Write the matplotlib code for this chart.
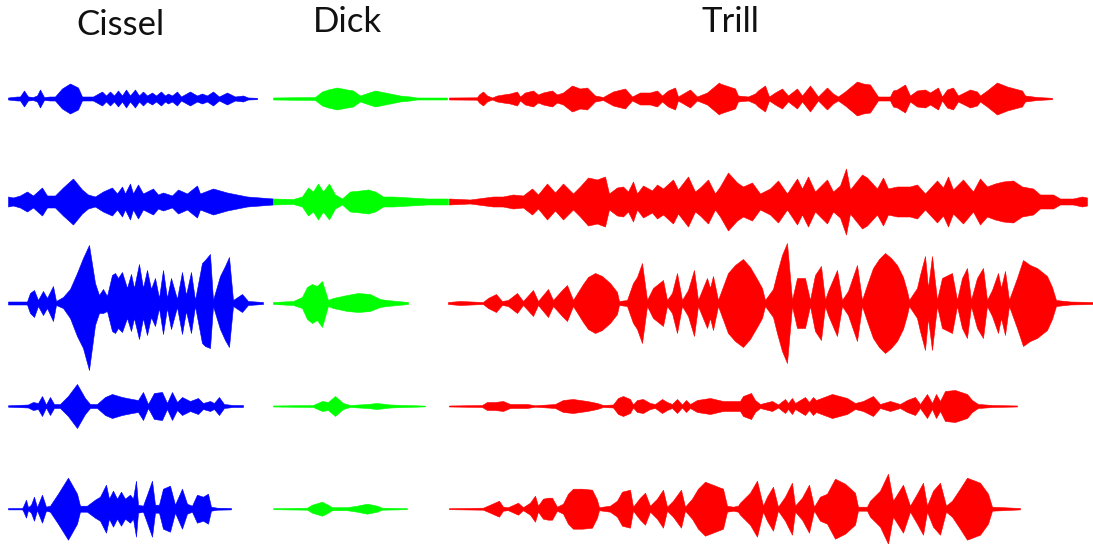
import matplotlib
matplotlib.use("Agg")
import matplotlib.pyplot as plt

titles = ["Cissel", "Dick", "Trill"]
title_x = [120, 347, 730]
title_y = [25, 22, 22]
colors = {"Cissel": "#0000ff", "Dick": "#00ff00", "Trill": "#ff0000"}
row_centres = [98.5, 201.5, 303, 406, 508.7]

# Row 1
cissel1_x = [8,17,20,24,28,33,37,40,44,50,55,62,70,78,82,93,102,106,110,114,118,122,126,130,135,139,143,147,152,156,161,165,168,172,177,181,190,197,202,207,213,219,227,235,243,248,257]
cissel1_h = [1,2,2,8,2,1.5,3,9,1.5,2,2,10,15,11,2,2,7,3,7,3,8,3,9,3,9,3,7,3,6,3,7,3,5,3,7,2,7,3,5,3,7,2,6,2,3,1,0.7]
dick1_x = [273,315,322,328,337,347,353,360,375,390,400,410,417,447]
dick1_h = [1,1.5,7,9,11,9,8,3,8,5,3,2,1,1]
trill1_x = [449,477,479,483,487,492,497,503,510,517,520,525,533,538,543,552,557,563,572,580,587,595,603,613,625,632,640,650,657,662,668,675,678,690,697,707,719,720,735,738,748,755,758,765,769,775,782,788,797,802,810,818,827,833,838,845,857,863,870,878,890,893,897,905,910,917,925,930,938,942,947,953,958,970,977,980,987,997,1007,1022,1025,1037,1052]
trill1_h = [1,1.2,4,7,3,1,3,4,5,7,2,6,8,4,6,8,4,6,13,10,11,3,1.5,7,10,2,6,6,8,3,8,11,2,9,2,6,16,15,10,3,2,5,8,13,2,6,10,3,10,3,13,2,11,5,2,7,17,15,14,2,2,8,9,14,3,8,9,6,11,2,9,11,3,9,7,3,8,16,12,8,3,1.5,0.7]

# Row 2
cissel2_x = [8,13,20,27,33,42,47,55,63,73,82,88,95,103,112,117,122,125,130,133,138,143,153,158,163,172,178,187,197,200,213,227,247,260,273]
cissel2_h = [5,4,6,10,6,14,6,6,14,23,12,7,5,10,14,8,15,8,18,8,17,8,13,7,9,6,12,8,16,8,13,9,5,4,3]
dick2_x = [273,293,302,308,313,318,323,329,335,342,350,360,368,375,380,383,393,410,427,448]
dick2_h = [3,2.5,5,14,10,18,10,18,7,3,10,11,12,10,7,5,5,4,3,3]
trill2_x = [449,470,493,503,513,523,532,538,547,555,563,573,580,588,597,605,609,617,623,628,633,637,643,652,657,663,673,678,688,695,700,708,715,720,728,737,743,752,760,770,778,787,797,802,808,815,827,833,840,846,850,862,867,877,883,888,897,910,917,925,937,943,948,953,963,973,980,987,995,1003,1013,1022,1033,1040,1053,1060,1073,1082,1087]
trill2_h = [3,2,5,5,7,6,13,7,18,9,18,8,15,24,22,25,8,14,15,10,20,8,16,11,17,13,22,12,25,10,14,22,8,15,29,19,15,19,8,13,21,8,23,13,25,10,22,10,16,33,12,27,24,13,24,13,15,15,17,8,21,14,25,12,22,10,23,15,18,20,21,15,13,7,7,3,3,5,4]

# Row 3
cissel3_x = [8,27,30,34,38,43,47,53,56,63,70,77,83,89,95,99,103,107,112,115,118,122,127,131,134,139,143,147,151,155,159,163,167,171,177,182,186,191,195,202,205,210,213,220,225,229,233,242,248,263]
cissel3_up = [1.5,1.5,10,13,3,12,5,17,2,6,14,30,45,58,20,8,14,7,28,30,25,31,15,29,15,39,15,33,14,25,5,33,5,25,4,31,8,31,3,40,43,49,3,27,37,46,3,9,2,1]
cissel3_dn = [1.5,1.5,10,14,3,12,5,18,2,5,15,33,45,67,22,10,10,8,28,30,25,29,15,28,15,36,15,32,14,23,5,31,5,26,4,31,8,30,3,40,43,45,3,26,37,44,3,9,2,1]
dick3_x = [273,293,302,307,312,317,322,328,333,347,358,370,380,387,397,408]
dick3_up = [1,2,6,16,19,17,22,3,5,8,10,9,4,3,2,1]
dick3_dn = [1,2,5,16,20,17,24,3,5,8,9,8,4,3,2,1]
trill3_x = [448,460,483,488,496,502,508,517,523,533,538,548,553,562,567,573,583,588,595,602,610,617,619,627,633,637,642,647,653,663,667,672,677,682,688,694,698,707,710,713,718,728,735,743,750,757,762,765,773,777,782,787,792,797,805,810,815,821,825,828,837,842,848,857,862,867,873,879,885,891,897,903,907,909,917,920,925,928,932,937,942,952,957,962,967,971,977,983,987,992,998,1001,1005,1009,1017,1023,1030,1037,1047,1052,1056,1070,1093]
trill3_h = [1,2,1,5,9,2,3,10,2,13,2,14,3,13,18,3,19,26,30,27,20,11,2,3,20,26,40,3,15,23,3,10,30,3,13,33,3,25,15,27,3,30,38,44,36,24,15,3,14,30,48,60,3,25,25,3,28,37,3,12,33,3,12,38,3,18,35,44,50,45,38,26,12,3,15,28,47,15,47,3,25,30,3,25,35,3,25,35,3,13,30,15,32,3,25,43,38,35,27,16,3,1.5,1]

# Row 4
cissel4_x = [8,28,33,38,42,46,50,54,60,68,77,85,90,97,105,112,122,132,138,143,148,154,162,167,172,177,182,190,198,203,210,214,219,224,233,243]
cissel4_h = [0.7,1.5,4,3,10,1.5,9,2,2,10,22,8,2,2,9,12,9,7,6,14,2,13,14,3,14,4,9,5,8,3,5,3,9,2,1,1]
dick4_x = [273,313,322,328,335,343,350,367,377,390,425]
dick4_h = [0.5,1,5,4,10,3,1,2,3,1.5,0.4]
trill4_x = [449,482,487,495,503,510,518,527,535,555,563,573,587,597,603,613,618,623,630,633,637,643,650,655,662,667,672,677,682,686,690,697,710,723,733,740,743,751,755,760,772,778,785,788,792,795,805,809,813,816,832,847,855,863,873,880,890,900,907,915,920,927,932,936,940,945,955,967,972,978,993,1017]
trill4_h = [0.5,1,4,4,5,2,2,2,0.7,2,6,7,5,3,1,1.5,8,10,7,1.5,6,7,3,2,7,4,2,7,1.5,6,2,6,8,5,5,5,10,13,6,2,5,1.5,7,3,8,3,9,4,9,6,12,8,3,5,10,2,5,2,6,9,2,12,3,12,5,15,16,12,6,2,1,0.5]

# Row 5
cissel5_x = [8,22,23,26,28,31,34,37,42,46,50,58,68,77,80,87,95,100,106,109,113,117,121,125,130,133,136,138,143,147,152,155,159,163,170,175,182,187,192,197,203,208,211,217,231]
cissel5_h = [0.7,0.7,2,9,1.5,4,12,1.5,14,2,3,15,31,15,3,3,9,12,24,10,18,10,17,10,14,10,28,4,3,14,28,4,4,20,23,4,20,5,3,14,12,15,2,1,0.7]
dick5_x = [273,307,312,322,328,332,347,357,367,377,382,407]
dick5_h = [0.5,1,4,7,4,1.5,1.5,3,5,3,1,0.5]
trill5_x = [449,483,490,499,503,508,518,523,530,535,538,543,548,552,557,563,568,573,582,592,597,599,610,617,622,630,633,640,645,650,657,663,667,673,681,685,692,698,705,723,727,733,738,740,750,757,763,767,773,778,785,792,795,802,809,814,820,827,835,845,855,858,867,870,880,888,893,903,910,917,923,927,933,940,946,952,960,967,980,988,992,1020]
trill5_h = [0.5,1,4,8,2,1.5,6,1.5,6,13,3,10,11,11,2,5,15,20,20,19,9,1.5,3,8,17,19,2,11,16,3,10,19,2,8,19,2,10,20,27,20,3,2,3,6,16,28,3,12,22,2,12,26,3,11,24,2,12,15,30,25,16,2,2,8,18,35,8,24,3,15,26,3,18,26,3,8,20,31,26,15,2,0.7]

waves = [
    ("Cissel", 0, cissel1_x, cissel1_h, cissel1_h),
    ("Dick", 0, dick1_x, dick1_h, dick1_h),
    ("Trill", 0, trill1_x, trill1_h, trill1_h),
    ("Cissel", 1, cissel2_x, cissel2_h, cissel2_h),
    ("Dick", 1, dick2_x, dick2_h, dick2_h),
    ("Trill", 1, trill2_x, trill2_h, trill2_h),
    ("Cissel", 2, cissel3_x, cissel3_up, cissel3_dn),
    ("Dick", 2, dick3_x, dick3_up, dick3_dn),
    ("Trill", 2, trill3_x, trill3_h, trill3_h),
    ("Cissel", 3, cissel4_x, cissel4_h, cissel4_h),
    ("Dick", 3, dick4_x, dick4_h, dick4_h),
    ("Trill", 3, trill4_x, trill4_h, trill4_h),
    ("Cissel", 4, cissel5_x, cissel5_h, cissel5_h),
    ("Dick", 4, dick5_x, dick5_h, dick5_h),
    ("Trill", 4, trill5_x, trill5_h, trill5_h),
]

fig = plt.figure(figsize=(10.93, 5.44), dpi=100)
ax = fig.add_axes([0, 0, 1, 1])
ax.set_xlim(0, 1093)
ax.set_ylim(544, 0)
ax.axis("off")

for name, row, xs, up, dn in waves:
    c = row_centres[row]
    ax.fill_between(xs, [c - v for v in up], [c + v for v in dn],
                    color=colors[name], linewidth=0.4, zorder=2)

for t, x, y in zip(titles, title_x, title_y):
    ax.text(x, y, t, ha="center", va="center", fontsize=25,
            family="Lato", color="#111111")

fig.savefig("out.png", dpi=100)
